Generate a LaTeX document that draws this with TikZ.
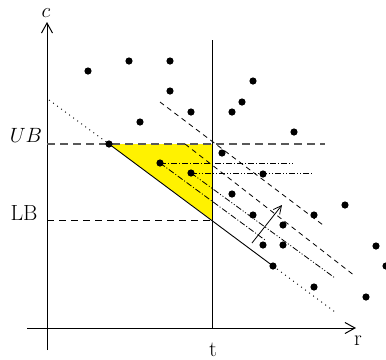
\documentclass[tikz,border=0pt]{standalone}
\usetikzlibrary{arrows.meta}

\begin{document}
\begin{tikzpicture}[x=1bp,y=-1bp,
    dot/.style={circle,fill=black,inner sep=0pt,minimum size=7.2bp},
    lbl/.style={font=\fontsize{22}{26}\selectfont,inner sep=0pt},
    axis/.style={line width=1bp,-{Straight Barb[length=10bp,width=11bp]}},
    dashdot/.style={line width=.8bp,dash pattern=on 6bp off 2bp on 1bp off 2bp},
    dashdotdot/.style={line width=.8bp,dash pattern=on 6bp off 2bp on 1bp off 2bp on 1bp off 2bp},
    lam/.style={line width=.8bp,dash pattern=on 5bp off 4bp}]
  \useasboundingbox (0,0) rectangle (386,360);

  % gap between the bounds
  \fill[yellow] (109,144) -- (212,144) -- (212,220) -- cycle;

  % axes and the resource limit
  \coordinate (cbot) at (47,350);
  \coordinate (ctop) at (47,22);
  \coordinate (rleft) at (27,328);
  \coordinate (rright) at (356,328);
  \coordinate (tbot) at (212,328);
  \coordinate (ttop) at (212,40);
  \draw[axis] (cbot) -- (ctop);
  \draw[axis] (rleft) -- (rright);
  \draw[line width=1bp] (tbot) -- (ttop);

  \node[lbl] (clab) at (46,13) {$c$};
  \node[lbl] (rlab) at (358,341) {r};
  \node[lbl] (tlab) at (213,350) {t};
  \node[lbl] (ublab) at (26,135) {$UB$};
  \node[lbl] (lblab) at (24,213) {LB};

  % bounds
  \coordinate (ubl) at (47,144);
  \coordinate (ubr) at (325,144);
  \coordinate (lbl) at (47,220);
  \coordinate (lbr) at (212,220);
  \draw[gray!70!black,line width=1.3bp,dash pattern=on 8bp off 5bp] (ubl) -- (ubr);
  \draw[line width=.9bp,dash pattern=on 7bp off 5bp] (lbl) -- (lbr);

  % paths
  \node[dot] (p1) at (88,71) {};
  \node[dot] (p2) at (129,61) {};
  \node[dot] (p3) at (170,61) {};
  \node[dot] (p4) at (170,91) {};
  \node[dot] (p5) at (191,112) {};
  \node[dot] (p6) at (140,122) {};
  \node[dot] (p7) at (109,144) {};
  \node[dot] (p8) at (160,163) {};
  \node[dot] (p9) at (191,173) {};
  \node[dot] (p10) at (253,81) {};
  \node[dot] (p11) at (242,102) {};
  \node[dot] (p12) at (232,112) {};
  \node[dot] (p13) at (294,132) {};
  \node[dot] (p14) at (222,153) {};
  \node[dot] (p15) at (263,174) {};
  \node[dot] (p16) at (232,194) {};
  \node[dot] (p17) at (253,215) {};
  \node[dot] (p18) at (283,225) {};
  \node[dot] (p19) at (314,215) {};
  \node[dot] (p20) at (345,205) {};
  \node[dot] (p21) at (263,245) {};
  \node[dot] (p22) at (283,245) {};
  \node[dot] (p23) at (273,266) {};
  \node[dot] (p24) at (376,246) {};
  \node[dot] (p25) at (386,266) {};
  \node[dot] (p26) at (314,287) {};
  \node[dot] (p27) at (366,297) {};

  % lagrangian lines
  \coordinate (m0) at (49,100);
  \coordinate (m1) at (335,312);
  \draw[line width=.9bp,dash pattern=on 1bp off 4bp] (m0) -- (p7.center);
  \draw[line width=.9bp] (p7.center) -- (p23.center);
  \draw[line width=.9bp,dash pattern=on 1bp off 4bp] (p23.center) -- (m1);

  \coordinate (a0) at (160,102);
  \coordinate (a1) at (323,225);
  \draw[lam] (a0) -- (a1);
  \coordinate (b0) at (185,144);
  \coordinate (b1) at (355,276);
  \draw[lam] (b0) -- (b1);
  \coordinate (e1) at (265,240);
  \draw[dashdot] (p8.center) -- (e1);
  \coordinate (f1) at (335,278);
  \draw[dashdotdot] (p9.center) -- (f1);

  % costs of the two paths in the gap
  \coordinate (h8) at (293,163);
  \coordinate (h9) at (314,173);
  \draw[dashdot] (p8.center) -- (h8);
  \draw[dashdotdot] (p9.center) -- (h9);

  % direction of improvement
  \coordinate (g0) at (252,243);
  \coordinate (g1) at (282,205);
  \draw[line width=.8bp,-{Straight Barb[length=8bp,width=8bp]}] (g0) -- (g1);
\end{tikzpicture}
\end{document}
